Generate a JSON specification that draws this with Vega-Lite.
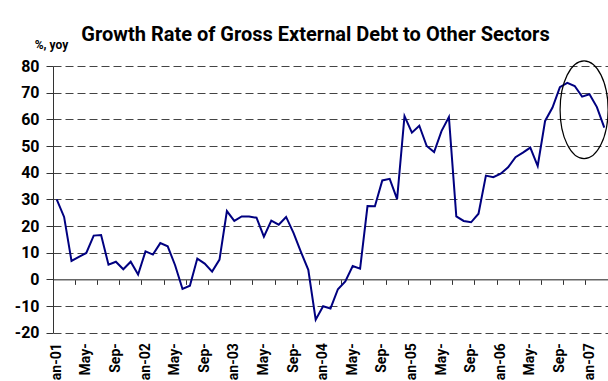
{
  "$schema": "https://vega.github.io/schema/vega-lite/v6.json",
  "width": 555,
  "height": 266.7,
  "autosize": {"type": "none"},
  "padding": {"left": 53, "top": 66, "right": 0, "bottom": 48.3},
  "background": "white",
  "config": {
    "view": {"stroke": null},
    "font": "Roboto, Liberation Sans, sans-serif"
  },
  "title": {
    "text": "Growth Rate of Gross External Debt to Other Sectors",
    "fontSize": 20,
    "fontWeight": "bold",
    "color": "black",
    "anchor": "middle",
    "dx": -15,
    "offset": -7
  },
  "data": {
    "values": [
      {"month": "2001-01", "value": 30.0},
      {"month": "2001-02", "value": 23.4},
      {"month": "2001-03", "value": 6.9},
      {"month": "2001-04", "value": 8.4},
      {"month": "2001-05", "value": 9.9},
      {"month": "2001-06", "value": 16.4},
      {"month": "2001-07", "value": 16.6},
      {"month": "2001-08", "value": 5.5},
      {"month": "2001-09", "value": 6.6},
      {"month": "2001-10", "value": 3.8},
      {"month": "2001-11", "value": 6.6},
      {"month": "2001-12", "value": 1.8},
      {"month": "2002-01", "value": 10.5},
      {"month": "2002-02", "value": 9.3},
      {"month": "2002-03", "value": 13.6},
      {"month": "2002-04", "value": 12.4},
      {"month": "2002-05", "value": 5.3},
      {"month": "2002-06", "value": -3.6},
      {"month": "2002-07", "value": -2.4},
      {"month": "2002-08", "value": 7.8},
      {"month": "2002-09", "value": 5.9},
      {"month": "2002-10", "value": 2.9},
      {"month": "2002-11", "value": 7.4},
      {"month": "2002-12", "value": 25.6},
      {"month": "2003-01", "value": 21.9},
      {"month": "2003-02", "value": 23.6},
      {"month": "2003-03", "value": 23.6},
      {"month": "2003-04", "value": 23.1},
      {"month": "2003-05", "value": 16.0},
      {"month": "2003-06", "value": 22.0},
      {"month": "2003-07", "value": 20.5},
      {"month": "2003-08", "value": 23.4},
      {"month": "2003-09", "value": 17.4},
      {"month": "2003-10", "value": 10.3},
      {"month": "2003-11", "value": 3.6},
      {"month": "2003-12", "value": -15.1},
      {"month": "2004-01", "value": -10.1},
      {"month": "2004-02", "value": -10.9},
      {"month": "2004-03", "value": -3.7},
      {"month": "2004-04", "value": -0.8},
      {"month": "2004-05", "value": 5.0},
      {"month": "2004-06", "value": 4.0},
      {"month": "2004-07", "value": 27.5},
      {"month": "2004-08", "value": 27.4},
      {"month": "2004-09", "value": 37.1},
      {"month": "2004-10", "value": 37.7},
      {"month": "2004-11", "value": 30.1},
      {"month": "2004-12", "value": 61.2},
      {"month": "2005-01", "value": 55.0},
      {"month": "2005-02", "value": 57.6},
      {"month": "2005-03", "value": 50.0},
      {"month": "2005-04", "value": 47.7},
      {"month": "2005-05", "value": 55.6},
      {"month": "2005-06", "value": 60.9},
      {"month": "2005-07", "value": 23.6},
      {"month": "2005-08", "value": 21.9},
      {"month": "2005-09", "value": 21.4},
      {"month": "2005-10", "value": 24.6},
      {"month": "2005-11", "value": 38.9},
      {"month": "2005-12", "value": 38.3},
      {"month": "2006-01", "value": 39.6},
      {"month": "2006-02", "value": 42.0},
      {"month": "2006-03", "value": 45.8},
      {"month": "2006-04", "value": 47.5},
      {"month": "2006-05", "value": 49.4},
      {"month": "2006-06", "value": 42.5},
      {"month": "2006-07", "value": 59.4},
      {"month": "2006-08", "value": 64.4},
      {"month": "2006-09", "value": 72.1},
      {"month": "2006-10", "value": 73.7},
      {"month": "2006-11", "value": 72.5},
      {"month": "2006-12", "value": 68.5},
      {"month": "2007-01", "value": 69.4},
      {"month": "2007-02", "value": 64.6},
      {"month": "2007-03", "value": 56.9}
    ]
  },
  "encoding": {
    "y": {
      "field": "value",
      "type": "quantitative",
      "scale": {"domain": [-20, 80], "nice": false, "zero": false},
      "axis": {
        "title": "%, yoy",
        "titleAngle": 0,
        "titleX": -2,
        "titleY": -18,
        "titleAlign": "center",
        "titleBaseline": "alphabetic",
        "titleFontSize": 12,
        "titleFontWeight": "bold",
        "titleColor": "black",
        "values": [-20, -10, 0, 10, 20, 30, 40, 50, 60, 70, 80],
        "labelExpr": "'' + datum.value",
        "labelFontSize": 16,
        "labelFontWeight": "bold",
        "labelColor": "black",
        "labelPadding": 7,
        "tickSize": 7,
        "tickColor": "#333333",
        "domainColor": "#333333",
        "grid": true,
        "gridDash": [8, 4],
        "gridColor": "#444444",
        "gridWidth": 1
      }
    }
  },
  "layer": [
    {
      "mark": {"type": "line", "color": "#000080", "strokeWidth": 2},
      "encoding": {
        "x": {
          "field": "month",
          "type": "ordinal",
          "scale": {"type": "band", "paddingInner": 0, "paddingOuter": 0},
          "axis": {
            "orient": "bottom",
            "title": null,
            "ticks": false,
            "domain": false,
            "grid": false,
            "bandPosition": 0.5,
            "labelAngle": 270,
            "labelFontSize": 14,
            "labelFontWeight": "bold",
            "labelColor": "black",
            "labelPadding": 10,
            "labelOverlap": false,
            "labelExpr": "slice(datum.value,5)=='01' ? 'Jan-' + slice(datum.value,2,4) : slice(datum.value,5)=='05' ? 'May-' : slice(datum.value,5)=='09' ? 'Sep-' : ''"
          }
        }
      }
    },
    {
      "data": {"values": [{"month": "2006-12", "value": 63.6}]},
      "mark": {
        "type": "point",
        "shape": "M 0 -2.04 A 1 2.04 0 1 1 0 2.04 A 1 2.04 0 1 1 0 -2.04 Z",
        "size": 2304,
        "filled": false,
        "stroke": "black",
        "strokeWidth": 1.2,
        "opacity": 1,
        "xOffset": 2
      },
      "encoding": {
        "x": {
          "field": "month",
          "type": "ordinal",
          "axis": {
            "orient": "bottom",
            "offset": -53.34,
            "title": null,
            "labels": false,
            "grid": false,
            "domain": true,
            "domainColor": "#666666",
            "domainWidth": 1.5,
            "ticks": true,
            "tickSize": 5,
            "tickColor": "#333333",
            "bandPosition": 0,
            "tickOpacity": {"condition": {"test": "indexof(['01','04','07','10'], slice(datum.value,5)) >= 0", "value": 1}, "value": 0}
          }
        }
      }
    }
  ],
  "resolve": {"axis": {"x": "independent"}}
}
